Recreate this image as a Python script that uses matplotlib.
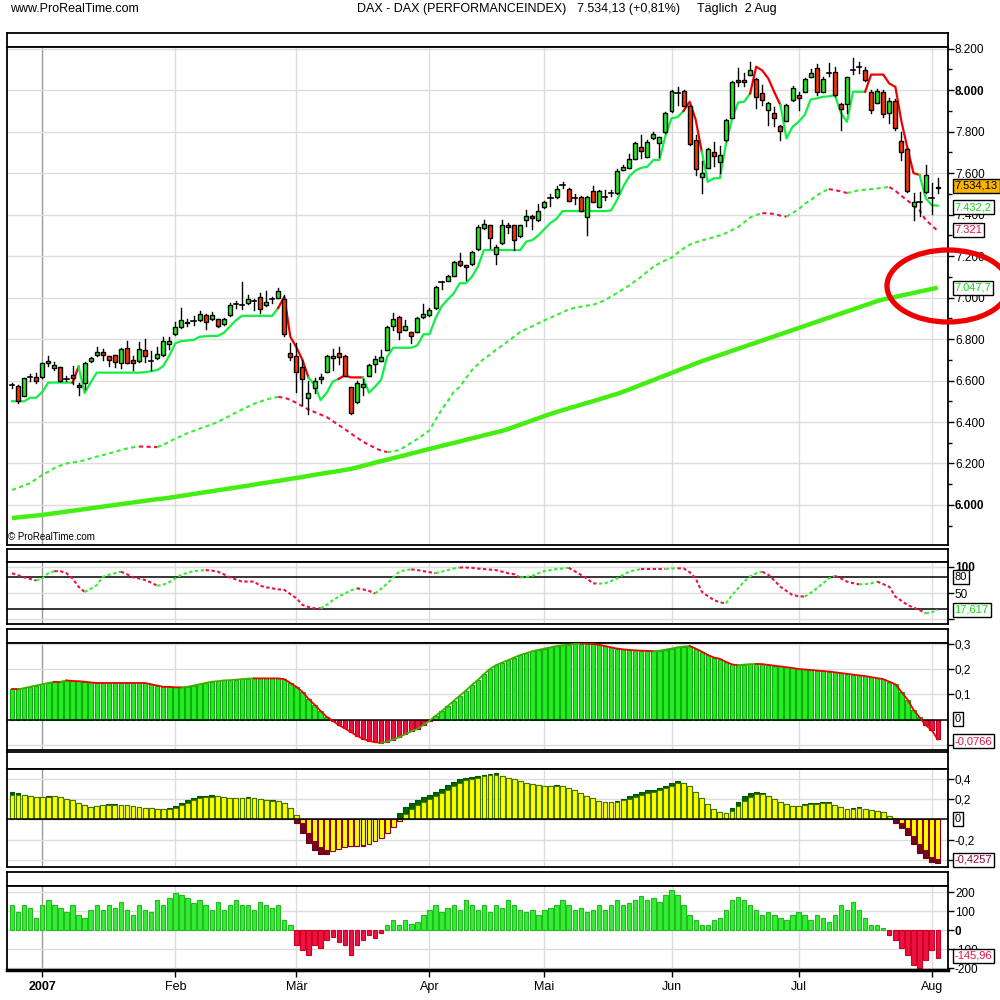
import matplotlib
matplotlib.use("Agg")
import matplotlib.pyplot as plt
from matplotlib.patches import Ellipse

plt.rcParams['font.family'] = ['Liberation Sans', 'DejaVu Sans']

# ---- daily DAX candles, 21 Dec 2006 .. 2 Aug 2007 ----
open_ = [6578, 6574, 6527, 6615, 6618, 6616, 6683, 6662, 6663, 6609, 6625, 6580, 6590, 6694, 6722, 6736, 6717, 6722, 6683, 6755,
         6699, 6694, 6747, 6694, 6707, 6722, 6775, 6823, 6857, 6884, 6887, 6890, 6916, 6895, 6895, 6871, 6914, 6967, 6962, 6972,
         6985, 7001, 6962, 6994, 6999, 6991, 6731, 6718, 6664, 6514, 6563, 6606, 6643, 6707, 6733, 6718, 6567, 6495, 6567, 6623,
         6678, 6696, 6747, 6863, 6905, 6844, 6834, 6835, 6905, 6914, 6948, 7077, 7080, 7106, 7175, 7156, 7160, 7233, 7334, 7348,
         7209, 7261, 7348, 7348, 7296, 7372, 7395, 7372, 7435, 7481, 7483, 7541, 7522, 7481, 7484, 7390, 7512, 7438, 7486, 7505,
         7502, 7616, 7626, 7668, 7725, 7680, 7767, 7747, 7797, 7898, 7984, 7995, 7924, 7759, 7583, 7626, 7700, 7655, 7759, 7868,
         8051, 8051, 8075, 8056, 7984, 7904, 7888, 7827, 7852, 7951, 7976, 7992, 8065, 8109, 7992, 8085, 8089, 7932, 7932, 8095,
         8112, 8099, 7992, 7939, 7992, 7888, 7949, 7754, 7716, 7443, 7462, 7510, 7478, 7526]
high = [6590, 6580, 6614, 6630, 6635, 6686, 6720, 6690, 6666, 6620, 6670, 6590, 6690, 6712, 6760, 6750, 6720, 6725, 6755, 6790,
        6720, 6785, 6800, 6740, 6760, 6810, 6810, 6880, 6950, 6895, 6910, 6935, 6920, 6930, 6898, 6900, 6975, 6985, 7076, 7010,
        6995, 7020, 7030, 7005, 7045, 7010, 6781, 6780, 6700, 6600, 6610, 6630, 6722, 6750, 6760, 6722, 6570, 6600, 6605, 6680,
        6720, 6745, 6865, 6925, 6910, 6890, 6836, 6905, 6970, 6950, 7055, 7080, 7110, 7178, 7215, 7158, 7225, 7348, 7375, 7350,
        7255, 7375, 7360, 7350, 7352, 7420, 7397, 7450, 7465, 7500, 7540, 7555, 7530, 7500, 7490, 7490, 7540, 7520, 7520, 7520,
        7620, 7640, 7690, 7750, 7783, 7760, 7800, 7775, 7895, 8000, 8016, 8000, 7930, 7783, 7660, 7720, 7748, 7730, 7862, 8045,
        8105, 8081, 8137, 8058, 8024, 7945, 7920, 7830, 7935, 8020, 7992, 8060, 8101, 8125, 8065, 8129, 8110, 7940, 8065, 8157,
        8137, 8110, 8000, 8005, 8000, 7960, 7955, 7800, 7720, 7502, 7510, 7639, 7551, 7575]
low = [6565, 6493, 6525, 6600, 6590, 6612, 6670, 6650, 6596, 6598, 6583, 6530, 6560, 6690, 6720, 6700, 6670, 6665, 6660, 6684,
       6650, 6690, 6690, 6650, 6705, 6720, 6750, 6820, 6855, 6865, 6870, 6888, 6850, 6893, 6858, 6868, 6912, 6950, 6945, 6970,
       6940, 6925, 6960, 6975, 6997, 6815, 6700, 6546, 6480, 6439, 6540, 6590, 6640, 6650, 6680, 6620, 6440, 6490, 6530, 6620,
       6640, 6694, 6745, 6845, 6800, 6842, 6780, 6833, 6903, 6912, 6946, 7040, 7078, 7104, 7154, 7085, 7158, 7231, 7332, 7240,
       7160, 7259, 7310, 7230, 7294, 7345, 7330, 7370, 7433, 7440, 7481, 7530, 7465, 7450, 7415, 7300, 7460, 7436, 7470, 7490,
       7500, 7614, 7624, 7666, 7671, 7678, 7765, 7680, 7795, 7896, 7928, 7922, 7735, 7591, 7505, 7624, 7636, 7602, 7757, 7866,
       8019, 8019, 8073, 7912, 7928, 7832, 7827, 7759, 7850, 7949, 7904, 7990, 8063, 7976, 7990, 8068, 7974, 7807, 7888, 8076,
       8081, 8046, 7888, 7937, 7872, 7843, 7807, 7663, 7510, 7374, 7391, 7505, 7403, 7505]
close = [6578, 6503, 6611, 6615, 6598, 6683, 6694, 6675, 6598, 6609, 6611, 6567, 6686, 6707, 6736, 6722, 6701, 6691, 6752, 6686,
         6683, 6752, 6720, 6694, 6726, 6789, 6792, 6857, 6890, 6876, 6887, 6919, 6882, 6914, 6861, 6898, 6962, 6967, 6962, 6991,
         6985, 6943, 6977, 6994, 7030, 6823, 6715, 6643, 6606, 6538, 6598, 6618, 6718, 6720, 6715, 6623, 6445, 6587, 6582, 6673,
         6704, 6715, 6859, 6898, 6833, 6861, 6817, 6900, 6919, 6938, 7049, 7077, 7104, 7170, 7156, 7147, 7218, 7342, 7354, 7285,
         7246, 7348, 7338, 7277, 7348, 7393, 7383, 7417, 7459, 7481, 7522, 7541, 7467, 7481, 7417, 7483, 7462, 7512, 7486, 7505,
         7611, 7629, 7668, 7744, 7706, 7749, 7788, 7773, 7888, 7995, 7984, 7924, 7740, 7622, 7599, 7715, 7684, 7687, 7857, 8037,
         8041, 8041, 8099, 7968, 7951, 7936, 7868, 7804, 7928, 8011, 7964, 8056, 8085, 7992, 8056, 8085, 7976, 7908, 8061, 8095,
         8112, 8048, 7904, 7997, 7883, 7949, 7816, 7704, 7515, 7459, 7462, 7591, 7478, 7534]

# trailing stop line
stop = [6500, 6500, 6500, 6517, 6517, 6545, 6590, 6590, 6590, 6590, 6590, 6667, 6540, 6590, 6638, 6638, 6638, 6638, 6638, 6638,
        6638, 6638, 6640, 6645, 6650, 6670, 6720, 6780, 6790, 6793, 6795, 6811, 6813, 6815, 6815, 6830, 6860, 6890, 6912, 6912,
        6912, 6912, 6912, 6912, 6950, 7004, 6811, 6760, 6700, 6614, 6580, 6506, 6540, 6595, 6608, 6625, 6615, 6615, 6615, 6541,
        6570, 6603, 6715, 6758, 6758, 6758, 6758, 6770, 6823, 6823, 6900, 6957, 6990, 7020, 7069, 7069, 7100, 7149, 7229, 7229,
        7229, 7229, 7229, 7229, 7229, 7270, 7277, 7300, 7330, 7360, 7380, 7417, 7417, 7417, 7417, 7417, 7417, 7417, 7417, 7420,
        7470, 7534, 7583, 7612, 7625, 7631, 7663, 7663, 7780, 7864, 7870, 7900, 7944, 7857, 7704, 7558, 7575, 7575, 7740, 7860,
        7940, 7944, 7984, 8113, 8095, 8056, 7990, 7928, 7767, 7823, 7847, 7880, 7955, 7960, 7968, 7970, 7976, 7890, 7847, 7992,
        7992, 7992, 8075, 8075, 8075, 8032, 8016, 7850, 7720, 7600, 7591, 7480, 7446, 7443]

# 50-day average (dotted) and 200-day average (thick)
ma50 = [6072, 6083, 6094, 6105, 6125, 6145, 6160, 6178, 6190, 6200, 6205, 6210, 6215, 6225, 6233, 6240, 6248, 6256, 6265, 6272,
        6278, 6282, 6281, 6280, 6279, 6290, 6305, 6320, 6333, 6346, 6357, 6368, 6378, 6388, 6400, 6415, 6430, 6445, 6460, 6474,
        6488, 6498, 6508, 6516, 6521, 6517, 6507, 6492, 6476, 6460, 6448, 6436, 6424, 6405, 6385, 6366, 6345, 6325, 6305, 6290,
        6275, 6262, 6255, 6258, 6265, 6282, 6300, 6318, 6338, 6360, 6410, 6460, 6500, 6545, 6569, 6610, 6650, 6678, 6705, 6725,
        6748, 6768, 6790, 6812, 6834, 6848, 6862, 6876, 6890, 6903, 6915, 6930, 6942, 6950, 6956, 6961, 6965, 6975, 6987, 7005,
        7022, 7040, 7058, 7080, 7100, 7125, 7148, 7165, 7180, 7192, 7215, 7237, 7255, 7266, 7275, 7283, 7291, 7300, 7311, 7325,
        7340, 7362, 7386, 7398, 7407, 7406, 7403, 7395, 7390, 7408, 7425, 7452, 7470, 7492, 7510, 7523, 7518, 7512, 7504, 7510,
        7518, 7520, 7523, 7526, 7530, 7533, 7515, 7490, 7468, 7445, 7420, 7375, 7348, 7321]
ma200 = [5937, 5940, 5943, 5946, 5949, 5952, 5956, 5960, 5964, 5968, 5972, 5976, 5980, 5984, 5988, 5992, 5996, 6000, 6004, 6008,
         6012, 6016, 6020, 6024, 6028, 6031, 6035, 6039, 6044, 6048, 6053, 6057, 6062, 6066, 6071, 6075, 6080, 6084, 6089, 6093,
         6098, 6103, 6107, 6112, 6116, 6121, 6126, 6130, 6135, 6140, 6145, 6150, 6155, 6159, 6164, 6169, 6174, 6181, 6189, 6196,
         6204, 6211, 6218, 6226, 6233, 6240, 6248, 6255, 6263, 6270, 6277, 6285, 6292, 6299, 6306, 6314, 6321, 6328, 6336, 6343,
         6350, 6357, 6366, 6377, 6387, 6397, 6408, 6418, 6429, 6439, 6448, 6457, 6466, 6474, 6483, 6492, 6500, 6509, 6518, 6527,
         6535, 6546, 6557, 6568, 6580, 6591, 6602, 6614, 6625, 6636, 6648, 6659, 6670, 6682, 6693, 6703, 6713, 6723, 6733, 6743,
         6753, 6763, 6773, 6783, 6793, 6803, 6813, 6823, 6833, 6843, 6853, 6863, 6873, 6883, 6893, 6903, 6913, 6923, 6933, 6943,
         6953, 6963, 6973, 6983, 6991, 6997, 7003, 7010, 7016, 7022, 7029, 7035, 7041, 7048]

# stochastic (0..100)
stoch = [88, 84, 80, 77, 74, 78, 88, 92, 92, 88, 78, 62, 52, 58, 65, 81, 85, 88, 91, 86,
         80, 78, 75, 70, 64, 66, 71, 78, 85, 89, 92, 93, 94, 93, 91, 86, 80, 76, 72, 72,
         72, 64, 61, 59, 57, 56, 48, 40, 27, 23, 20.5, 20.5, 27, 36, 43, 49, 55, 59, 57, 54,
         49, 58, 68, 80, 91, 94, 95.5, 94, 92, 90, 88, 91, 94, 97, 99, 99, 98.5, 97, 96, 95,
         94, 91, 88, 86, 79.5, 81, 83, 88, 92, 94, 96, 97, 98.5, 92, 85, 78, 68.6, 68, 68.6, 73,
         78, 85, 91, 94, 96, 96, 96, 96, 96, 97, 97.4, 97.4, 90, 78, 52.5, 44, 36.5, 32, 30, 46,
         59, 72, 82, 88, 91, 85, 74, 62, 54, 46, 44, 43, 50, 59, 68, 78, 83, 78, 71.8, 69,
         66.7, 67, 68.6, 72, 67, 62, 43, 35, 27, 22, 17.3, 11, 13, 17.6]

# momentum histogram (panel 3)
mom = [0.12, 0.12, 0.125, 0.13, 0.135, 0.14, 0.145, 0.15, 0.15, 0.155, 0.153, 0.152, 0.15, 0.147, 0.145, 0.145, 0.145, 0.145, 0.145, 0.145,
       0.145, 0.145, 0.145, 0.14, 0.135, 0.13, 0.13, 0.128, 0.128, 0.13, 0.135, 0.14, 0.145, 0.15, 0.152, 0.155, 0.156, 0.158, 0.16, 0.162,
       0.163, 0.163, 0.163, 0.163, 0.163, 0.16, 0.145, 0.13, 0.11, 0.083, 0.06, 0.035, 0.012, -0.003, -0.02, -0.033, -0.047, -0.062, -0.074, -0.082,
       -0.087, -0.09, -0.085, -0.077, -0.068, -0.056, -0.045, -0.035, -0.02, -0.003, 0.016, 0.034, 0.054, 0.075, 0.095, 0.115, 0.137, 0.157, 0.18, 0.2,
       0.215, 0.225, 0.235, 0.245, 0.255, 0.262, 0.27, 0.275, 0.28, 0.285, 0.29, 0.293, 0.295, 0.298, 0.3, 0.3, 0.298, 0.295, 0.29, 0.285,
       0.28, 0.277, 0.275, 0.273, 0.272, 0.271, 0.27, 0.272, 0.276, 0.28, 0.285, 0.288, 0.29, 0.28, 0.268, 0.255, 0.245, 0.24, 0.228, 0.218,
       0.215, 0.217, 0.219, 0.22, 0.219, 0.216, 0.213, 0.21, 0.207, 0.204, 0.2, 0.198, 0.196, 0.194, 0.192, 0.19, 0.187, 0.184, 0.181, 0.178,
       0.175, 0.172, 0.168, 0.164, 0.16, 0.15, 0.14, 0.11, 0.08, 0.04, 0.01, -0.02, -0.04, -0.0766]

# MACD-style histogram (panel 4): dark bar and yellow signal bar
macd = [0.27, 0.26, 0.237, 0.227, 0.217, 0.22, 0.23, 0.227, 0.217, 0.2, 0.187, 0.16, 0.14, 0.12, 0.13, 0.14, 0.15, 0.15, 0.14, 0.137,
        0.127, 0.117, 0.11, 0.107, 0.1, 0.1, 0.11, 0.13, 0.16, 0.19, 0.21, 0.23, 0.23, 0.24, 0.23, 0.22, 0.213, 0.21, 0.21, 0.22,
        0.21, 0.2, 0.19, 0.19, 0.177, 0.16, 0.11, -0.04, -0.13, -0.23, -0.3, -0.34, -0.34, -0.307, -0.28, -0.263, -0.263, -0.263, -0.263, -0.223,
        -0.2, -0.167, -0.123, -0.06, 0.06, 0.12, 0.16, 0.19, 0.217, 0.24, 0.27, 0.3, 0.34, 0.37, 0.4, 0.407, 0.417, 0.427, 0.44, 0.45,
        0.46, 0.43, 0.41, 0.4, 0.377, 0.36, 0.353, 0.343, 0.333, 0.333, 0.343, 0.327, 0.31, 0.287, 0.26, 0.233, 0.207, 0.183, 0.17, 0.17,
        0.183, 0.203, 0.23, 0.25, 0.27, 0.29, 0.29, 0.31, 0.333, 0.36, 0.38, 0.357, 0.333, 0.27, 0.21, 0.153, 0.103, 0.07, 0.06, 0.11,
        0.17, 0.23, 0.26, 0.27, 0.26, 0.233, 0.2, 0.17, 0.153, 0.133, 0.127, 0.153, 0.163, 0.163, 0.17, 0.17, 0.143, 0.12, 0.1, 0.11,
        0.12, 0.1, 0.093, 0.083, 0.07, 0.037, -0.033, -0.083, -0.15, -0.24, -0.33, -0.38, -0.417, -0.4257]
signal = [0.243, 0.243, 0.243, 0.233, 0.22, 0.22, 0.223, 0.227, 0.217, 0.2, 0.187, 0.16, 0.14, 0.12, 0.127, 0.137, 0.137, 0.14, 0.14, 0.137,
          0.127, 0.117, 0.11, 0.107, 0.1, 0.1, 0.103, 0.113, 0.137, 0.16, 0.19, 0.207, 0.217, 0.223, 0.227, 0.22, 0.213, 0.21, 0.21, 0.21,
          0.207, 0.2, 0.19, 0.183, 0.177, 0.16, 0.11, 0.043, -0.04, -0.13, -0.213, -0.273, -0.3, -0.317, -0.29, -0.273, -0.263, -0.263, -0.257, -0.24,
          -0.217, -0.18, -0.133, -0.073, -0.013, 0.053, 0.103, 0.143, 0.173, 0.203, 0.233, 0.26, 0.293, 0.333, 0.36, 0.387, 0.4, 0.41, 0.427, 0.437,
          0.44, 0.427, 0.41, 0.4, 0.377, 0.36, 0.353, 0.343, 0.333, 0.333, 0.333, 0.327, 0.31, 0.287, 0.26, 0.233, 0.207, 0.183, 0.17, 0.17,
          0.173, 0.187, 0.203, 0.223, 0.243, 0.26, 0.273, 0.29, 0.307, 0.333, 0.357, 0.36, 0.333, 0.27, 0.21, 0.153, 0.103, 0.07, 0.06, 0.083,
          0.127, 0.177, 0.217, 0.247, 0.25, 0.233, 0.2, 0.17, 0.153, 0.133, 0.127, 0.14, 0.15, 0.153, 0.16, 0.163, 0.143, 0.12, 0.1, 0.103,
          0.11, 0.1, 0.093, 0.083, 0.07, 0.037, 0.01, -0.033, -0.083, -0.167, -0.247, -0.307, -0.367, -0.39]

# CCI-style bars (panel 5)
cci = [132, 95, 132, 116, 63, 132, 158, 132, 116, 95, 132, 79, 63, 105, 132, 105, 132, 116, 147, 105,
       79, 132, 105, 95, 158, 132, 168, 195, 184, 168, 142, 158, 132, 105, 147, 105, 132, 158, 132, 132,
       105, 147, 132, 116, 132, 53, 26, -79, -105, -132, -79, -95, -53, -37, -63, -79, -132, -79, -53, -26,
       -42, -16, 26, 53, 26, 53, 32, 42, 79, 105, 132, 95, 116, 132, 105, 158, 132, 105, 132, 95,
       132, 116, 158, 132, 105, 95, 105, 79, 105, 116, 132, 158, 132, 105, 116, 95, 105, 132, 105, 132,
       158, 132, 142, 158, 179, 158, 168, 147, 184, 210, 184, 132, 79, 53, 26, 26, 53, 63, 105, 158,
       174, 158, 132, 105, 79, 95, 79, 63, 53, 79, 95, 79, 53, 79, 63, 42, 79, 132, 105, 147,
       105, 63, 26, 26, 11, -26, -53, -95, -132, -184, -200, -158, -105, -145.96]

# month starts (bar index) for the x axis
month_idx = [5, 27, 47, 69, 88, 109, 130, 152]
month_lbl = ['2007', 'Feb', 'Mär', 'Apr', 'Mai', 'Jun', 'Jul', 'Aug']

x = list(range(len(close)))

GREEN = '#22ee22'
RED = '#ff3300'
LGREEN = '#33ee33'
CRIMSON = '#ee1144'
GRID = '#dddddd'

fig = plt.figure(figsize=(10, 10), dpi=100)


def panel(top, bottom, left=7, right=948):
    # axes placed by pixel rows of the 1000x1000 picture
    ax = fig.add_axes([left / 1000, 1 - bottom / 1000, (right - left) / 1000, (bottom - top) / 1000])
    ax.set_xlim(-0.83, 154.7)
    for s in ax.spines.values():
        s.set_linewidth(1.3)
    ax.set_xticks([])
    for k, m in enumerate(month_idx):
        ax.axvline(m, color='#999999' if k == 0 else GRID, lw=1, zorder=0)
    return ax


def header(top, bottom):
    ax = fig.add_axes([7 / 1000, 1 - bottom / 1000, 941 / 1000, (bottom - top) / 1000])
    ax.set_xticks([])
    ax.set_yticks([])
    for s in ax.spines.values():
        s.set_linewidth(1.3)
    return ax


def right_ticks(ax, ticks, labels, bold=()):
    ax.yaxis.tick_right()
    ax.set_yticks(ticks)
    ax.set_yticklabels(labels)
    ax.tick_params(axis='y', direction='out', length=4, width=1, labelsize=8.5, pad=1)
    for t in ax.get_yticklabels():
        if t.get_text() in bold:
            t.set_fontweight('bold')
    for t in ticks:
        ax.axhline(t, color=GRID, lw=1, zorder=0)


def plot_runs(ax, xs, ys, seg_colors, **kw):
    # seg_colors[i] is the colour of the piece from point i-1 to point i
    start = 0
    for i in range(1, len(xs)):
        last = (i == len(xs) - 1)
        if last or seg_colors[i + 1] != seg_colors[i]:
            ax.plot(xs[start:i + 1], ys[start:i + 1], color=seg_colors[i], **kw)
            start = i


def de(v, nd=0):
    s = f"{v:,.{nd}f}"
    return s.replace(',', 'X').replace('.', ',').replace('X', '.')


# ---------------- main price panel ----------------
header(33, 47)
ax = panel(47, 545)
ax.set_ylim(5807, 8208)
pt = list(range(6000, 8201, 200))
right_ticks(ax, pt, [de(v) for v in pt], bold=('6.000', '8.000'))
ax.set_yticks(list(range(5900, 8201, 100)), minor=True)
ax.tick_params(axis='y', which='minor', direction='out', length=3, width=1)

ax.plot(x, ma200, color='#44ee11', lw=3.2, solid_capstyle='butt', zorder=2)
ma_col = [LGREEN] + [LGREEN if ma50[i] > ma50[i - 1] else CRIMSON for i in range(1, len(ma50))]
plot_runs(ax, x, ma50, ma_col, lw=1.5, dashes=(2, 1.6), zorder=2)
st_col = ['#11ee44'] + ['#ee0000' if stop[i] > close[i] else '#11ee44' for i in range(1, len(stop))]
plot_runs(ax, x, stop, st_col, lw=1.6, zorder=3)

for i in x:
    o, h, l, c = open_[i], high[i], low[i], close[i]
    ax.plot([i, i], [l, h], color='black', lw=1, zorder=4)
    if o == c:
        ax.plot([i - 0.38, i + 0.38], [c, c], color='black', lw=1.2, zorder=5)
    else:
        ax.bar(i, abs(c - o), bottom=min(o, c), width=0.66,
               color=GREEN if c > o else RED, edgecolor='black', lw=1, zorder=5)

fig.text(0.008, 1 - 0.537, '© ProRealTime.com', fontsize=7, va='center')

# ---------------- stochastic ----------------
header(549, 562)
ax2 = panel(562, 624)
ax2.set_ylim(-9.6, 109.6)
right_ticks(ax2, [0, 50, 100], ['', '50', '100'], bold=('100',))
ax2.axhline(80, color='black', lw=1.1)
ax2.axhline(20, color='black', lw=1.1)
sc = [LGREEN] + [LGREEN if stoch[i] > stoch[i - 1] else CRIMSON for i in range(1, len(stoch))]
plot_runs(ax2, x, stoch, sc, lw=1.5, dashes=(1.6, 1.2))

# ---------------- momentum histogram ----------------
header(629, 643)
ax3 = panel(643, 750)
ax3.set_ylim(-0.118, 0.302)
right_ticks(ax3, [-0.1, 0.1, 0.2, 0.3], ['', '0,1', '0,2', '0,3'])
ax3.bar(x, mom, width=0.72, color=[GREEN if v >= 0 else CRIMSON for v in mom],
        edgecolor=['#11aa11' if v >= 0 else '#bb0022' for v in mom], lw=0.8, zorder=2)
ax3.axhline(0, color='black', lw=1.1, zorder=3)
mc = ['#44aa00'] + ['#44aa00' if mom[i] > mom[i - 1] else '#ee0000' for i in range(1, len(mom))]
plot_runs(ax3, x, mom, mc, lw=1.3, zorder=4)

# ---------------- MACD-style histogram ----------------
header(752, 769)
ax4 = panel(769, 867)
ax4.set_ylim(-0.47, 0.496)
right_ticks(ax4, [-0.4, -0.2, 0.2, 0.4], ['', '-0,2', '0,2', '0,4'])
ax4.bar(x, macd, width=0.8, color=['#006600' if v >= 0 else '#7a0022' for v in macd],
        edgecolor=['#005500' if v >= 0 else '#660018' for v in macd], lw=0.8, zorder=2)
ax4.bar(x, signal, width=0.8, color='#ffff00',
        edgecolor=['#447700' if v >= 0 else '#880022' for v in signal], lw=0.8, zorder=3)
ax4.axhline(0, color='black', lw=1.1, zorder=4)

# ---------------- CCI-style bars ----------------
header(872, 886)
ax5 = panel(886, 970)
ax5.set_ylim(-210, 232)
right_ticks(ax5, [-200, -100, 0, 100, 200], ['-200', '-100', '0', '100', '200'], bold=('0',))
ax5.bar(x, cci, width=0.72, color=[LGREEN if v >= 0 else CRIMSON for v in cci],
        edgecolor=['#22bb22' if v >= 0 else '#cc0022' for v in cci], lw=0.8, zorder=2)
ax5.spines['bottom'].set_linewidth(2.5)
ax5.set_xticks(month_idx)
ax5.set_xticklabels(month_lbl, fontsize=9)
ax5.tick_params(axis='x', direction='out', length=5, width=1, pad=3)
ax5.get_xticklabels()[0].set_fontweight('bold')


# ---------------- value boxes on the right ----------------
def vbox(y, txt, col, bg='white'):
    fig.text(0.9545, 1 - y / 1000, txt, color=col, fontsize=8, va='center', ha='left',
             bbox=dict(boxstyle='square,pad=0.18', fc=bg, ec='black', lw=1))


vbox(186, '7.534,13', 'black', '#f8b400')
vbox(207, '7.432,2', '#11dd11')
vbox(230, '7.321', CRIMSON)
vbox(288, '7.047,7', '#11dd11')
vbox(577, '80', 'black')
vbox(610, '17,617', '#11dd11')
vbox(719, '0', 'black')
vbox(741, '-0,0766', CRIMSON)
vbox(819, '0', 'black')
vbox(860, '-0,4257', '#990033')
vbox(956, '-145,96', CRIMSON)

# red circle drawn on the chart
fig.add_artist(Ellipse((0.948, 1 - 0.286), 0.122, 0.072, fill=False, edgecolor='#ee0000',
                       lw=3.8, transform=fig.transFigure, zorder=10))

# title line
fig.text(0.010, 1 - 0.009, 'www.ProRealTime.com', fontsize=9, va='center')
fig.text(0.357, 1 - 0.009, 'DAX - DAX (PERFORMANCEINDEX)', fontsize=9, va='center')
fig.text(0.577, 1 - 0.009, '7.534,13 (+0,81%)', fontsize=9, va='center')
fig.text(0.697, 1 - 0.009, 'Täglich  2 Aug', fontsize=9, va='center')

fig.savefig('out.png', dpi=100)
